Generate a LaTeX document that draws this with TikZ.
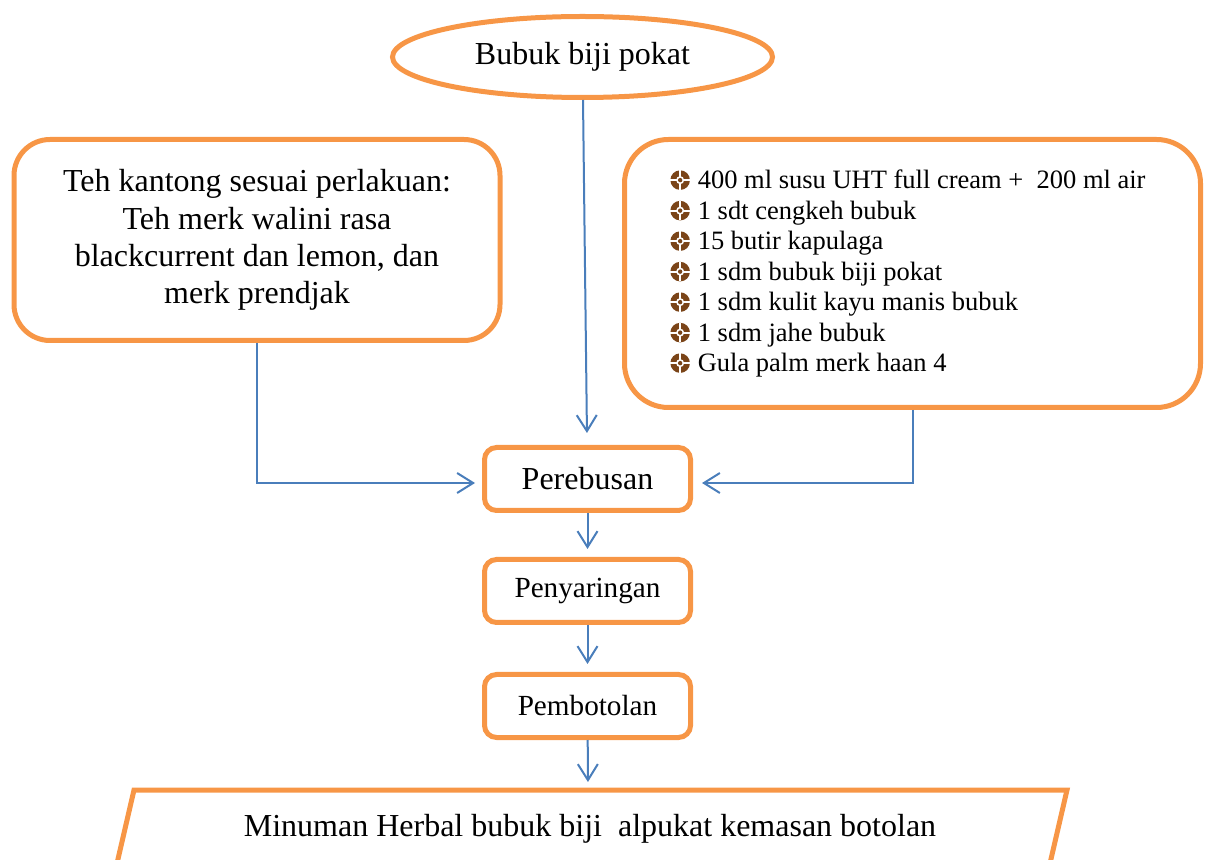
\documentclass[tikz,border=0pt]{standalone}
\usepackage{fontspec}
\setmainfont{Liberation Serif}
\usetikzlibrary{arrows.meta,shapes.geometric}
\definecolor{boxorange}{HTML}{F79646}
\definecolor{linkblue}{HTML}{4A7EBB}
\definecolor{nutbrown}{HTML}{7A4418}
% brown round bullet of the ingredient list
\newcommand{\nutbullet}{\tikz[baseline=-4.4pt,x=1pt,y=1pt]{%
  \fill[nutbrown] (0,0) circle (4.9);
  \draw[white,line width=0.9pt] (-4.9,0)--(4.9,0) (0,-4.9)--(0,4.9);
  \fill[white] (0,0) circle (2);
  \fill[nutbrown] (0,0) circle (1.1);}\hspace{3.5pt}}

\begin{document}
\begin{tikzpicture}[x=0.5pt,y=-0.5pt,
    proses/.style={draw=boxorange,line width=2.5pt,rounded corners=6pt,minimum width=103pt,minimum height=31.5pt,inner sep=2pt},
    bahanbox/.style={draw=boxorange,line width=2.5pt,rounded corners=18pt},
    alur/.style={draw=linkblue,line width=1pt,-{Straight Barb[length=8pt,width=10pt]}}]
        \useasboundingbox (0,0) rectangle (1205,860);
        \clip (0,0) rectangle (1205,860);

        % Bahan
        \node (bubuk) at (582.5,57) [ellipse,draw=boxorange,line width=2.5pt,minimum width=190pt,minimum height=40.5pt,font=\fontsize{16}{19}\selectfont] {Bubuk biji pokat};
        \node (teh) at (257,240) [bahanbox,minimum width=243pt,minimum height=100.5pt,align=center,font=\fontsize{16}{18.6}\selectfont] {Teh kantong sesuai perlakuan:\\ Teh merk walini rasa\\ blackcurrent dan lemon, dan\\ merk prendjak};
        \node (bahan) at (912.5,273.5) [bahanbox,rounded corners=22pt,minimum width=288pt,minimum height=134pt,align=left,font=\fontsize{13.25}{15.25}\selectfont] {\nutbullet 400 ml susu UHT full cream +\ \ 200 ml air\hspace*{5pt}\\ \nutbullet 1 sdt cengkeh bubuk\\ \nutbullet 15 butir kapulaga\\ \nutbullet 1 sdm bubuk biji pokat\\ \nutbullet 1 sdm kulit kayu manis bubuk\\ \nutbullet 1 sdm jahe bubuk\\ \nutbullet Gula palm merk haan 4};

        % Proses
        \node (perebusan) at (587.5,479) [proses,font=\fontsize{16}{19}\selectfont] {Perebusan};
        \node (penyaringan) at (587.5,591) [proses,font=\fontsize{14.6}{17}\selectfont] {Penyaringan};
        \node (pembotolan) at (587.5,706) [proses,font=\fontsize{14.6}{17}\selectfont] {Pembotolan};

        % Hasil
        \draw[boxorange,line width=2.5pt] (134,790) -- (1067,790) -- (1048,872) -- (115,872) -- cycle;
        \coordinate (hasilatas) at (588,790);
        \node (hasil) at (590,829) [font=\fontsize{16}{19}\selectfont] {Minuman Herbal bubuk biji\ \ alpukat kemasan botolan};

        % Alur
        \draw[alur,shorten >=6pt] (bubuk) -- (perebusan);
        \draw[alur,shorten >=3.5pt] (teh.south) |- ([yshift=-2pt]perebusan.west);
        \draw[alur,shorten >=4.5pt] (bahan.south) |- ([yshift=-2pt]perebusan.east);
        \draw[alur,shorten >=4pt] (perebusan) -- (penyaringan);
        \draw[alur,shorten >=4pt] (penyaringan) -- (pembotolan);
        \draw[alur,shorten >=4pt] (pembotolan) -- (hasilatas);
    \end{tikzpicture}
\end{document}
